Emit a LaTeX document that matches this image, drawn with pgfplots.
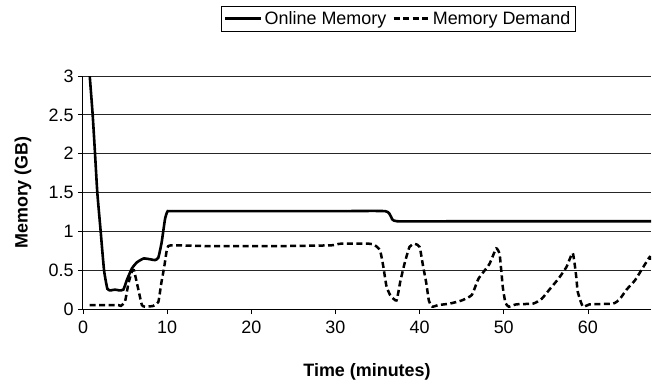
\documentclass[border=0pt]{standalone}
\usepackage{pgfplots}
\pgfplotsset{compat=1.18}
\usepackage{fontspec}
\setmainfont{Liberation Sans}
\begin{document}
\begin{tikzpicture}[x=1bp,y=1bp]
\path[use as bounding box] (-83,-76) rectangle (569,309);
\begin{axis}[
  at={(0,0)}, anchor=south west,
  scale only axis, width=568bp, height=233bp,
  xmin=0, xmax=67.5, ymin=0, ymax=3,
  xtick={0,10,...,60}, ytick={0,0.5,...,3},
  axis x line*=bottom, axis y line*=left,
  axis line style={line width=1bp},
  tick style={black, line width=0.8bp},
  tick align=outside, major tick length=5bp,
  ymajorgrids, grid style={black!85, line width=0.9bp},
  /pgf/number format/assume math mode=true,
  ticklabel style={font=\fontsize{18}{21}\selectfont},
  xticklabel style={yshift=-3bp},
  yticklabel style={xshift=-1bp},
  xlabel={\textbf{Time (minutes)}},
  ylabel={\textbf{Memory (GB)}},
  every axis x label/.style={at={(rel axis cs:0.5,0)}, yshift=-63bp, anchor=center, font=\fontsize{18}{21}\selectfont},
  every axis y label/.style={at={(rel axis cs:0,0.5)}, xshift=-60bp, rotate=90, anchor=center, font=\fontsize{18}{21}\selectfont},
  legend columns=2,
  legend style={at={(0.555,1.3)}, anchor=north, draw=black, line width=0.8bp,
    font=\fontsize{18}{21}\selectfont, inner sep=3bp,
    /tikz/every even column/.append style={column sep=4bp}},
  legend image code/.code={\draw[#1] (0bp,0bp) -- (36bp,0bp);},
  legend cell align=left,
  clip=true,
]
\addplot[black, line width=2.6bp, smooth, tension=0.3] coordinates {
(0.8,3.0) (1.15,2.5) (1.43,2.0) (1.7,1.5) (2.1,1.0) (2.5,0.5) (2.9,0.26)
(3.3,0.24) (3.8,0.25) (4.3,0.24) (4.8,0.25) (5.2,0.37) (5.8,0.52) (6.4,0.6)
(7.2,0.65) (8.0,0.64) (8.55,0.63) (8.95,0.66) (9.35,0.86) (9.75,1.16) (10.05,1.26)
(10.4,1.26) (20,1.26) (30,1.26) (35.9,1.26) (36.6,1.19) (37.3,1.13) (45,1.13) (55,1.13) (67.5,1.13)
};
\addlegendentry{Online Memory}
\addplot[black, line width=2.5bp, dash pattern=on 6bp off 3.5bp, smooth, tension=0.3] coordinates {
(0.8,0.05) (2.5,0.05) (4.2,0.05) (4.5,0.04) (5.0,0.1) (5.4,0.33) (5.8,0.48) (6.05,0.5)
(6.6,0.24) (7.0,0.05) (7.4,0.03) (8.35,0.04) (8.95,0.09) (9.3,0.33) (9.65,0.54)
(10.0,0.78) (10.5,0.82) (15,0.81) (23.4,0.81) (29.5,0.82) (30.5,0.84) (34.1,0.84)
(34.7,0.82) (35.3,0.755) (35.7,0.54) (36.05,0.3) (36.5,0.18) (37.25,0.11)
(37.7,0.35) (38.2,0.58) (38.8,0.8) (39.4,0.84) (40.0,0.8) (40.4,0.56) (40.8,0.33)
(41.1,0.11) (41.5,0.03) (42.2,0.05) (43.6,0.07) (45.0,0.11) (46.2,0.18) (47.0,0.39)
(48.3,0.58) (49.1,0.78) (49.5,0.71) (49.7,0.5) (49.9,0.27) (50.2,0.08) (50.6,0.03)
(51.5,0.06) (53.5,0.07) (54.5,0.13) (55.5,0.26) (56.5,0.39) (57.45,0.54) (58.2,0.72)
(58.6,0.43) (58.8,0.22) (59.4,0.03) (60.2,0.06) (63.0,0.07) (63.8,0.13) (64.6,0.25)
(65.6,0.37) (66.35,0.5) (67.35,0.67) (67.5,0.62)
};
\addlegendentry{Memory Demand}
\end{axis}
\end{tikzpicture}
\end{document}
